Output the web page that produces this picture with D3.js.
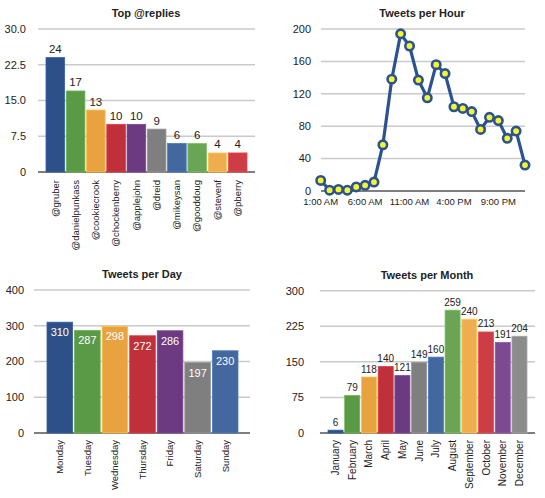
<!DOCTYPE html>
<html lang="en">
<head>
  <meta charset="utf-8">
  <title>Twitter stats</title>
  <script src="https://d3js.org/d3.v7.min.js"></script>
  <style>
    body { margin: 0; background: #fff; }
    svg text { font-family: "Liberation Sans", Arial, sans-serif; fill: #222; }
    .title { font-weight: bold; font-size: 11px; }
    .tick { font-size: 10px; }
  </style>
</head>
<body>
<div id="chart"></div>
<script>
  // data
  var replyNames = ["@gruber", "@danielpunkass", "@cookiecrook", "@chockenberry", "@applejohn",
    "@dreid", "@mikeysan", "@gooddoug", "@stevenf", "@pberry"];
  var replyCounts = [24, 17, 13, 10, 10, 9, 6, 6, 4, 4];
  var replyTicks = [0, 7.5, 15, 22.5, 30];

  var hourLabels = ["1:00 AM", "2:00 AM", "3:00 AM", "4:00 AM", "5:00 AM", "6:00 AM", "7:00 AM", "8:00 AM",
    "9:00 AM", "10:00 AM", "11:00 AM", "12:00 PM", "1:00 PM", "2:00 PM", "3:00 PM", "4:00 PM",
    "5:00 PM", "6:00 PM", "7:00 PM", "8:00 PM", "9:00 PM", "10:00 PM", "11:00 PM", "12:00 AM"];
  var hourCounts = [13, 1, 2, 1, 5, 7, 11, 57, 138, 194, 179, 137, 115, 156, 145, 104,
    102, 98, 76, 91, 87, 65, 74, 32];
  var hourTicks = [0, 40, 80, 120, 160, 200];

  var dayNames = ["Monday", "Tuesday", "Wednesday", "Thursday", "Friday", "Saturday", "Sunday"];
  var dayCounts = [310, 287, 298, 272, 286, 197, 230];
  var dayTicks = [0, 100, 200, 300, 400];

  var monthNames = ["January", "February", "March", "April", "May", "June", "July", "August",
    "September", "October", "November", "December"];
  var monthCounts = [6, 79, 118, 140, 121, 149, 160, 259, 240, 213, 191, 204];
  var monthTicks = [0, 75, 150, 225, 300];

  var palette = ["#2d5088", "#5a9946", "#e8a23f", "#c0303a", "#6b3a80", "#7f7f7f",
    "#43679f", "#69a554", "#eeae4f", "#cc3d45", "#7c4a91", "#8c8c8c"];

  var svg = d3.select("#chart").append("svg")
    .attr("width", 545)
    .attr("height", 498);

  // shared bits: gridlines, y tick labels, baseline
  function yAxis(y, ticks, x0, x1, labelX, fmt) {
    var g = svg.append("g");
    g.selectAll(".grid")
      .data(ticks.filter(function(t) { return t > 0; }))
      .enter().append("line")
      .attr("x1", x0).attr("x2", x1)
      .attr("y1", function(d) { return y(d); })
      .attr("y2", function(d) { return y(d); })
      .attr("stroke", "#cacaca")
      .attr("stroke-width", 1.5);
    g.selectAll(".tick")
      .data(ticks)
      .enter().append("text")
      .attr("class", "tick")
      .attr("x", labelX)
      .attr("y", function(d) { return y(d); })
      .attr("dy", "0.35em")
      .attr("text-anchor", "end")
      .style("font-size", "11px")
      .text(function(d) { return d === 0 ? "0" : fmt(d); });
    g.append("line")
      .attr("x1", x0).attr("x2", x1)
      .attr("y1", y(0)).attr("y2", y(0))
      .attr("stroke", "#555")
      .attr("stroke-width", 1.5);
  }

  function title(text, cx, cy) {
    svg.append("text")
      .attr("class", "title")
      .attr("x", cx).attr("y", cy)
      .attr("text-anchor", "middle")
      .text(text);
  }

  function barChart(opt) {
    var x = d3.scaleBand().domain(opt.names).range(opt.xRange).paddingInner(opt.pad);
    var y = d3.scaleLinear().domain([0, opt.ticks[opt.ticks.length - 1]]).range(opt.yRange);

    title(opt.title, opt.titleX, opt.titleY);
    yAxis(y, opt.ticks, opt.gridX[0], opt.gridX[1], opt.labelX, opt.fmt);

    var g = svg.append("g");
    g.selectAll("rect")
      .data(opt.values)
      .enter().append("rect")
      .attr("x", function(d, i) { return x(opt.names[i]); })
      .attr("y", function(d) { return y(d); })
      .attr("width", x.bandwidth())
      .attr("height", function(d) { return y(0) - y(d); })
      .attr("fill", function(d, i) { return palette[i % palette.length]; })
      .attr("stroke", function(d, i) { return d3.color(palette[i % palette.length]).brighter(0.5); })
      .attr("stroke-width", 0.8);

    g.selectAll(".val")
      .data(opt.values)
      .enter().append("text")
      .attr("x", function(d, i) { return x(opt.names[i]) + x.bandwidth() / 2; })
      .attr("y", function(d) { return opt.inside ? y(d) + 14 : y(d) - 4.5; })
      .attr("text-anchor", "middle")
      .style("font-size", opt.valSize)
      .style("fill", opt.inside ? "#fff" : "#222")
      .text(function(d) { return d; });

    g.selectAll(".cat")
      .data(opt.names)
      .enter().append("text")
      .attr("class", "tick")
      .attr("transform", function(d) {
        return "translate(" + (x(d) + x.bandwidth() / 2) + "," + opt.catY + ") rotate(-90)";
      })
      .attr("dy", "0.35em")
      .attr("text-anchor", "end")
      .style("font-size", opt.catSize)
      .text(function(d) { return d; });
  }

  // Top @replies
  barChart({
    title: "Top @replies", titleX: 146, titleY: 17,
    names: replyNames, values: replyCounts, ticks: replyTicks,
    xRange: [46, 247], pad: 0.08, yRange: [172, 29],
    gridX: [38, 255], labelX: 26, fmt: d3.format(".1f"),
    catY: 180, inside: false, valSize: "11.5px", catSize: "9.5px"
  });

  // Tweets per Day
  barChart({
    title: "Tweets per Day", titleX: 142, titleY: 278,
    names: dayNames, values: dayCounts, ticks: dayTicks,
    xRange: [47, 238], pad: 0.07, yRange: [433, 290],
    gridX: [34, 250], labelX: 24, fmt: d3.format("d"),
    catY: 440, inside: true, valSize: "11px", catSize: "9.5px"
  });

  // Tweets per Month
  barChart({
    title: "Tweets per Month", titleX: 427, titleY: 279,
    names: monthNames, values: monthCounts, ticks: monthTicks,
    xRange: [328, 527], pad: 0.1, yRange: [433, 290.7],
    gridX: [320, 535], labelX: 304, fmt: d3.format("d"),
    catY: 440, inside: false, valSize: "10px", catSize: "10px"
  });

  // Tweets per Hour
  var hx = d3.scaleLinear().domain([0, 23]).range([320.7, 525]);
  var hy = d3.scaleLinear().domain([0, 200]).range([191, 29]);
  title("Tweets per Hour", 422, 17);
  yAxis(hy, hourTicks, 321, 525, 311, d3.format("d"));

  var hg = svg.append("g");
  hg.selectAll(".hl")
    .data(hourLabels.filter(function(d, i) { return i % 5 === 0; }))
    .enter().append("text")
    .attr("class", "tick")
    .attr("x", function(d) { return hx(hourLabels.indexOf(d)); })
    .attr("y", 205)
    .attr("text-anchor", "middle")
    .style("font-size", "9.5px")
    .text(function(d) { return d; });

  var line = d3.line()
    .x(function(d, i) { return hx(i); })
    .y(function(d) { return hy(d); });

  hg.append("path")
    .datum(hourCounts)
    .attr("d", line)
    .attr("fill", "none")
    .attr("stroke", "#2c5390")
    .attr("stroke-width", 3.2)
    .attr("stroke-linejoin", "round");

  hg.selectAll("circle")
    .data(hourCounts)
    .enter().append("circle")
    .attr("cx", function(d, i) { return hx(i); })
    .attr("cy", function(d) { return hy(d); })
    .attr("r", 4.2)
    .attr("fill", "#f5f532")
    .attr("stroke", "#2c5390")
    .attr("stroke-width", 2.6);
</script>
</body>
</html>
